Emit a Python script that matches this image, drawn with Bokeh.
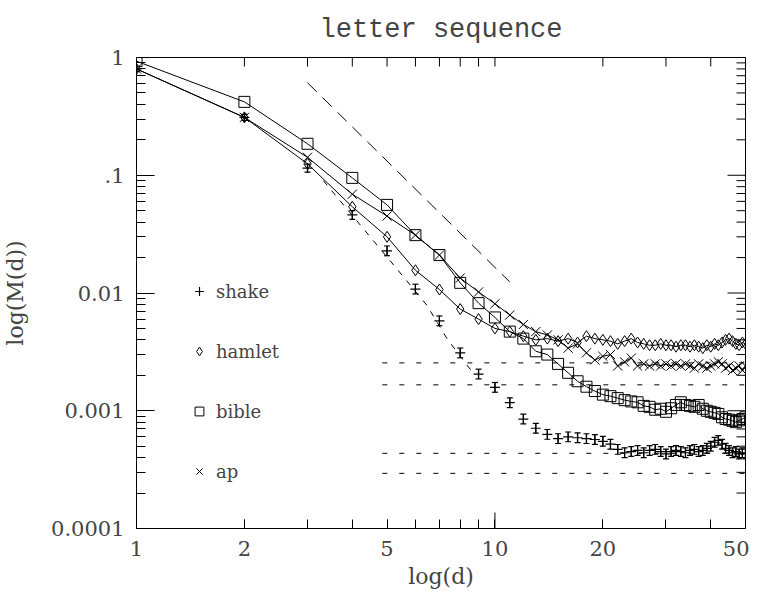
from bokeh.plotting import figure
from bokeh.models import FixedTicker, CustomJSTickFormatter, Legend, LegendItem, Range1d
from bokeh.embed import file_html
from bokeh.resources import INLINE
import numpy as np

# ---------------- data ----------------
d = list(range(1, 51))

shake = [0.80, 0.31, 0.115, 0.046, 0.0228, 0.0108, 0.0058, 0.0031, 0.00205, 0.00158,
         0.00117, 0.00085, 0.00071, 0.00063, 0.00058, 0.00060, 0.00059, 0.00058, 0.00057, 0.00055,
         0.00052, 0.00047, 0.00044, 0.00045, 0.00046, 0.00044, 0.00046, 0.00047, 0.00045, 0.00043,
         0.00045, 0.00046, 0.00045, 0.00044, 0.00046, 0.00047, 0.00045, 0.00046, 0.00048, 0.00050,
         0.00054, 0.00056, 0.00052, 0.00048, 0.00046, 0.00044, 0.00045, 0.00043, 0.00044, 0.00043]
shake_err = [0.05, 0.06, 0.08, 0.09, 0.10, 0.10, 0.10, 0.10, 0.10, 0.10,
             0.10, 0.10, 0.10, 0.10, 0.10, 0.10, 0.10, 0.10, 0.10, 0.10,
             0.10, 0.10, 0.10, 0.10, 0.10, 0.10, 0.10, 0.10, 0.10, 0.10,
             0.10, 0.10, 0.10, 0.10, 0.10, 0.10, 0.10, 0.10, 0.10, 0.10,
             0.10, 0.10, 0.10, 0.10, 0.10, 0.10, 0.10, 0.10, 0.10, 0.10]

hamlet = [0.80, 0.31, 0.125, 0.054, 0.030, 0.0156, 0.0107, 0.0073, 0.0060, 0.0050,
          0.0047, 0.0043, 0.0040, 0.0041, 0.0039, 0.0041, 0.0038, 0.0043, 0.0041, 0.0040,
          0.0039, 0.0037, 0.0039, 0.0041, 0.0038, 0.0037, 0.0036, 0.0036, 0.0037, 0.0036,
          0.0036, 0.0035, 0.0036, 0.0036, 0.0035, 0.0036, 0.0035, 0.0034, 0.0036, 0.0035,
          0.0037, 0.0036, 0.0038, 0.0040, 0.0041, 0.0039, 0.0037, 0.0036, 0.0038, 0.0037]

bible = [0.93, 0.42, 0.185, 0.095, 0.056, 0.031, 0.021, 0.0122, 0.0082, 0.0062,
         0.0047, 0.0041, 0.0032, 0.0030, 0.0025, 0.0021, 0.00178, 0.0016, 0.00147, 0.00137,
         0.00133, 0.00128, 0.00123, 0.00120, 0.00118, 0.00110, 0.00108, 0.00102, 0.00104, 0.00098,
         0.00105, 0.00112, 0.00118, 0.00112, 0.00110, 0.00108, 0.00112, 0.00104, 0.00100, 0.00098,
         0.00096, 0.00094, 0.00088, 0.00085, 0.00084, 0.00082, 0.00080, 0.00083, 0.00085, 0.00088]

ap = [0.80, 0.31, 0.142, 0.069, 0.045, 0.031, 0.021, 0.0134, 0.0102, 0.0081,
      0.0065, 0.0054, 0.0047, 0.0044, 0.0040, 0.0034, 0.0037, 0.0031, 0.0027, 0.0029,
      0.0030, 0.0024, 0.0026, 0.0028, 0.0024, 0.0025, 0.0024, 0.0025, 0.0024, 0.0025,
      0.0024, 0.0025, 0.0024, 0.0025, 0.0024, 0.0023, 0.0025, 0.0024, 0.0023, 0.0024,
      0.0025, 0.0026, 0.0025, 0.0023, 0.0024, 0.0022, 0.0023, 0.0024, 0.0022, 0.0024]

# reference (fit) lines
slope_line_d = [3.0, 11.0]
slope_line_m = [0.61, 0.0124]
fit_line_d = [3.32, 5.32, 6.45, 7.35, 8.35, 8.7]
fit_line_m = [0.090, 0.0161, 0.0079, 0.0041, 0.00244, 0.0021]
hline_d = [4.85, 50.0]
hline_m = [0.00255, 0.00166, 0.000435, 0.000294]

x_major = [1, 2, 5, 10, 20, 50]
x_labels = ["1", "2", "5", "10", "20", "50"]
x_minor = [2, 3, 4, 5, 6, 7, 8, 9, 20, 30, 40]
y_major = [0.0001, 0.001, 0.01, 0.1, 1]
y_labels = ["0.0001", "0.001", "0.01", ".1", "1"]
y_minor = [m * 10.0 ** e for e in range(-4, 0) for m in range(2, 10)]

X0, X1 = 1, 50
Y0, Y1 = 0.0001, 1
FW, FH = 609, 471
SERIF = "DejaVu Serif"

p = figure(frame_width=FW, frame_height=FH, x_axis_type="log", y_axis_type="log",
           x_range=Range1d(X0, X1), y_range=Range1d(Y0, Y1),
           output_backend="svg", toolbar_location=None,
           min_border_left=132, min_border_right=4, min_border_top=57, min_border_bottom=60,
           background_fill_color="white", border_fill_color="white")
p.grid.visible = False
p.outline_line_color = "black"
p.outline_line_width = 1

p.title.text = "letter sequence"
p.title.text_font = "Liberation Mono"
p.title.text_font_size = "27px"
p.title.text_font_style = "normal"
p.title.align = "center"
p.title.standoff = 25

code = """
let best = 0, bd = Infinity;
for (let i = 0; i < tv.length; i++) {
  const dd = Math.abs(Math.log10(tv[i]) - Math.log10(tick));
  if (dd < bd) { bd = dd; best = i; }
}
return tl[best];
"""
xfmt = CustomJSTickFormatter(args=dict(tv=x_major, tl=x_labels), code=code)
yfmt = CustomJSTickFormatter(args=dict(tv=y_major, tl=y_labels), code=code)


def style_axis(ax, major_in, minor_in):
    ax.major_tick_in = major_in
    ax.major_tick_out = 0
    ax.minor_tick_in = minor_in
    ax.minor_tick_out = 0
    ax.axis_line_color = "black"
    ax.major_tick_line_color = "black"
    ax.minor_tick_line_color = "black"
    ax.major_label_text_font = SERIF
    ax.major_label_text_font_size = "21px"
    ax.axis_label_text_font = SERIF
    ax.axis_label_text_font_size = "22px"
    ax.axis_label_text_font_style = "normal"


xa = p.xaxis[0]
xa.ticker = FixedTicker(ticks=x_major, minor_ticks=x_minor)
xa.formatter = xfmt
style_axis(xa, 9, 9)
xa.major_label_standoff = 12
xa.axis_label = "log(d)"
xa.axis_label_standoff = 5

ya = p.yaxis[0]
ya.ticker = FixedTicker(ticks=y_major, minor_ticks=y_minor)
ya.formatter = yfmt
style_axis(ya, 18, 9)
ya.major_label_standoff = 12
ya.axis_label = "log(M(d))"
ya.axis_label_standoff = 20

# mirrored ticks on the right and top frame edges (inward)
dx_px = (np.log10(X1) - np.log10(X0)) / FW
dy_px = (np.log10(Y1) - np.log10(Y0)) / FH
r_major_y = list(y_major)
r_minor_y = list(y_minor)
p.segment([X1 / 10 ** (18 * dx_px)] * len(r_major_y), r_major_y, [X1] * len(r_major_y), r_major_y,
          line_color="black", line_width=1)
p.segment([X1 / 10 ** (9 * dx_px)] * len(r_minor_y), r_minor_y, [X1] * len(r_minor_y), r_minor_y,
          line_color="black", line_width=1)
top_x = sorted(set(x_major + x_minor))
p.segment(top_x, [Y1 / 10 ** (9 * dy_px)] * len(top_x), top_x, [Y1] * len(top_x),
          line_color="black", line_width=1)
long_x = [10]
p.segment(long_x, [Y0] * len(long_x), long_x, [Y0 * 10 ** (16 * dy_px)] * len(long_x),
          line_color="black", line_width=1)

# reference lines
p.line(slope_line_d, slope_line_m, line_color="black", line_width=1, line_dash="13 8")
p.line(fit_line_d, fit_line_m, line_color="black", line_width=1, line_dash="6 7")
for hm in hline_m:
    p.line(hline_d, [hm, hm], line_color="black", line_width=1, line_dash="5 12")

# series lines
p.line(d, hamlet, line_color="black", line_width=1)
p.line(d, bible, line_color="black", line_width=1)
p.line(d, ap, line_color="black", line_width=1)

# shake with error bars
shake_hi = [m * (1 + e) for m, e in zip(shake, shake_err)]
shake_lo = [m / (1 + e) for m, e in zip(shake, shake_err)]
p.segment(d, shake_lo, d, shake_hi, line_color="black", line_width=1.2)
p.scatter(d, shake_hi, marker="dash", size=6, line_color="black", line_width=1.2)
p.scatter(d, shake_lo, marker="dash", size=6, line_color="black", line_width=1.2)
r_shake = p.scatter(d, shake, marker="cross", size=10, line_color="black", line_width=1.2)

r_ham = p.scatter(d, hamlet, marker="diamond", size=11,
                  line_color="black", fill_color=None, line_width=1)
r_bib = p.scatter(d, bible, marker="square", size=11,
                  line_color="black", fill_color=None, line_width=1)
r_ap = p.scatter(d, ap, marker="x", size=13, line_color="black", line_width=1)

legend = Legend(items=[LegendItem(label="shake", renderers=[r_shake]),
                       LegendItem(label="hamlet", renderers=[r_ham]),
                       LegendItem(label="bible", renderers=[r_bib]),
                       LegendItem(label="ap", renderers=[r_ap])],
                location=(52, 46), orientation="vertical",
                glyph_width=22, glyph_height=22, label_height=22, spacing=38,
                padding=0, margin=0, border_line_color=None,
                background_fill_alpha=0, label_standoff=6,
                label_text_font=SERIF, label_text_font_size="18px")
p.add_layout(legend, "center")

open("out.html", "w").write(file_html(p, INLINE))
